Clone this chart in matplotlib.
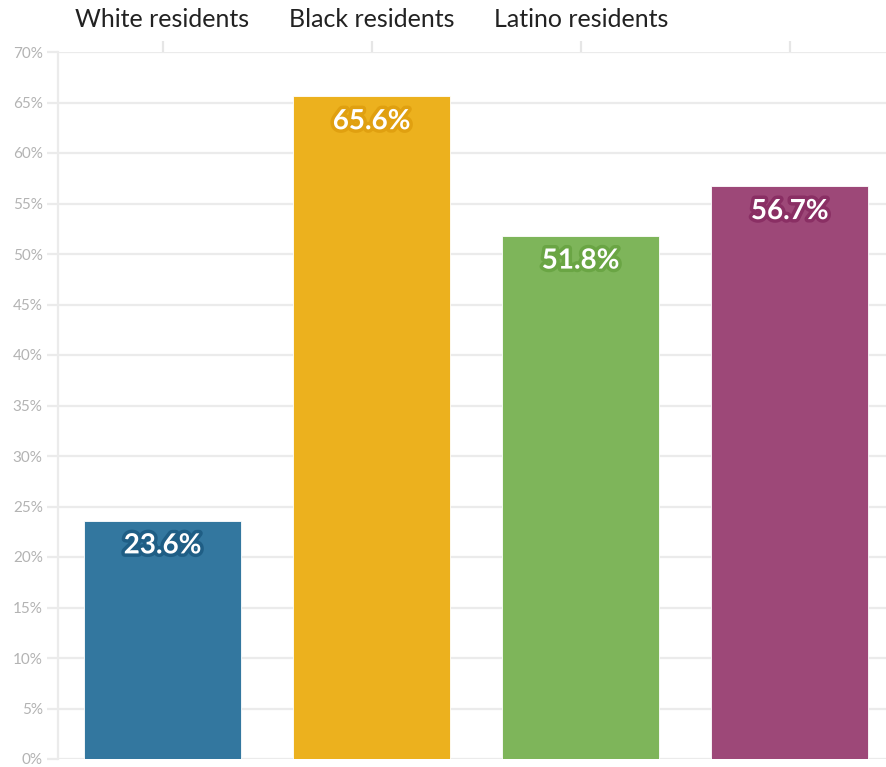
import matplotlib
matplotlib.use('Agg')
import matplotlib.pyplot as plt
import matplotlib.patheffects as pe
from matplotlib.ticker import MultipleLocator, FuncFormatter

plt.rcParams['font.family'] = ['Lato', 'DejaVu Sans']

# data
categories = ["White residents", "Black residents", "Latino residents", ""]
values = [23.6, 65.6, 51.8, 56.7]
bar_colors = ["#33779f", "#ecb11e", "#7eb55a", "#9d4878"]
stroke_colors = ["#1f5e85", "#e0a010", "#6aa544", "#8a2f64"]

fig = plt.figure(figsize=(8.86, 7.67), dpi=100)
ax = fig.add_axes([58 / 886, 1 - 759 / 767, 1 - 58 / 886, (759 - 52) / 767])

x = list(range(len(values)))
ax.bar(x, values, width=0.75, color=bar_colors,
       edgecolor="#ffffff", linewidth=0.6, zorder=3)

for xi, v, sc in zip(x, values, stroke_colors):
    ax.text(xi, v - 2.45, f"{v:.1f}%", ha="center", va="center",
            fontsize=20, fontweight="bold", color="white", zorder=4,
            path_effects=[pe.withStroke(linewidth=5, foreground=sc)])

ax.set_xlim(-0.5, 3.46)
ax.set_ylim(0, 70)
ax.yaxis.set_major_locator(MultipleLocator(5))
ax.yaxis.set_major_formatter(FuncFormatter(lambda v, p: f"{v:.0f}%"))
ax.grid(True, axis="y", color="#ebebeb", linewidth=1.6, zorder=0)

ax.xaxis.tick_top()
ax.set_xticks(x)
ax.set_xticklabels(categories, fontsize=18, color="#222222")
ax.tick_params(axis="x", length=8, width=1.6, color="#e6e6e6", pad=7)
ax.tick_params(axis="y", length=8, width=1.6, color="#ebebeb",
               labelsize=11, labelcolor="#b3b3b3", pad=3)

for side in ["right", "bottom", "top"]:
    ax.spines[side].set_visible(False)
ax.spines["left"].set_color("#ebebeb")
ax.spines["left"].set_linewidth(1.6)

fig.savefig("out.png", dpi=100)
